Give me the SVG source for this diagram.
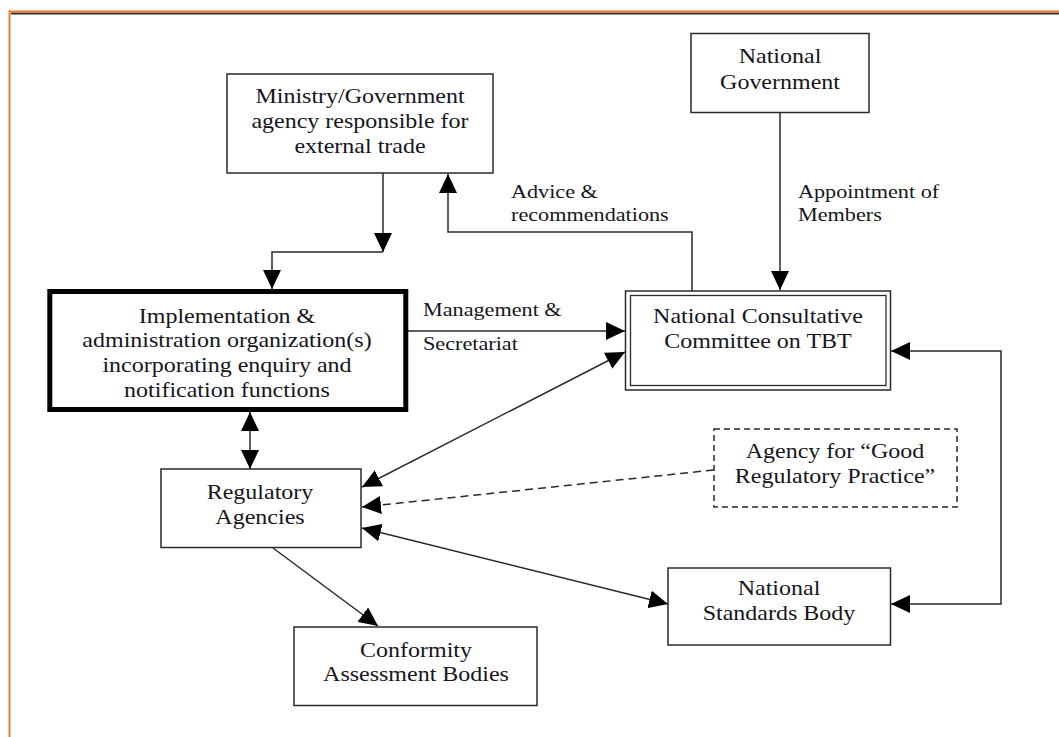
<svg xmlns="http://www.w3.org/2000/svg" width="1059" height="737" viewBox="0 0 1059 737">
  <style>
    .box { fill: #fff; stroke: #2a2a2a; stroke-width: 1.5; }
    .dash { fill: #fff; stroke: #2a2a2a; stroke-width: 1.5; stroke-dasharray: 6 4; }
    .t { font-family: "Liberation Serif", "Times New Roman", serif; font-size: 20px; fill: #151520; text-anchor: middle; }
    .lbl { font-family: "Liberation Serif", "Times New Roman", serif; font-size: 18.5px; fill: #151520; text-anchor: start; }
    .ln { fill: none; stroke: #2a2a2a; stroke-width: 1.5; }
  </style>
  <defs>
    <!-- solid triangular arrowhead, drawn in user units so every connector gets the same size -->
    <marker id="ah" markerUnits="userSpaceOnUse" markerWidth="20" markerHeight="18" refX="19" refY="9" orient="auto-start-reverse" viewBox="0 0 20 18">
      <path d="M0,0 L19,9 L0,18 Z" fill="#000"/>
    </marker>
  </defs>

  <rect width="1059" height="737" fill="#fff"/>

  <!-- page frame -->
  <g id="frame">
    <line x1="11" y1="13.6" x2="1059" y2="13.6" stroke="#2e2e2e" stroke-width="2"/>
    <line x1="9" y1="11.5" x2="1059" y2="11.5" stroke="#ED7D31" stroke-width="2"/>
    <line x1="9.5" y1="10.5" x2="9.5" y2="737" stroke="#ED7D31" stroke-width="2"/>
  </g>

  <!-- connectors -->
  <g id="connectors">
    <path class="ln" d="M383,173 V252" marker-end="url(#ah)"/>
    <path class="ln" d="M383,252 H272 V289" marker-end="url(#ah)"/>
    <path class="ln" d="M780,113 V290" marker-end="url(#ah)"/>
    <path class="ln" d="M692,291 V232 H448 V174" marker-end="url(#ah)"/>
    <path class="ln" d="M408,331 H625" marker-end="url(#ah)"/>
    <path class="ln" d="M625,352 L362,487" marker-start="url(#ah)" marker-end="url(#ah)"/>
    <path class="ln" d="M250,412 V469" marker-start="url(#ah)" marker-end="url(#ah)"/>
    <path class="ln" d="M714,470 L362,507" stroke-dasharray="8 5" marker-end="url(#ah)"/>
    <path class="ln" d="M362,528 L668,604" marker-start="url(#ah)" marker-end="url(#ah)"/>
    <path class="ln" d="M891,351 H1001 V604 H891" marker-start="url(#ah)" marker-end="url(#ah)"/>
    <path class="ln" d="M273,548 L378,626" marker-end="url(#ah)"/>
  </g>

  <!-- connector labels -->
  <g id="labels">
    <g transform="translate(511,0) scale(1.2,1)">
      <text class="lbl" x="0" y="198">Advice &amp;</text>
      <text class="lbl" x="0" y="221">recommendations</text>
    </g>
    <g transform="translate(798,0) scale(1.2,1)">
      <text class="lbl" x="0" y="198">Appointment of</text>
      <text class="lbl" x="0" y="221">Members</text>
    </g>
    <g transform="translate(423,0) scale(1.2,1)">
      <text class="lbl" x="0" y="316">Management &amp;</text>
      <text class="lbl" x="0" y="350">Secretariat</text>
    </g>
  </g>

  <g id="ministry">
    <rect class="box" x="227" y="74" width="266" height="99"/>
    <g transform="translate(360,0) scale(1.2,1)">
      <text class="t" x="0" y="103">Ministry/Government</text>
      <text class="t" x="0" y="128">agency responsible for</text>
      <text class="t" x="0" y="153">external trade</text>
    </g>
  </g>

  <g id="national-government">
    <rect class="box" x="691" y="33.5" width="178" height="79"/>
    <g transform="translate(780,0) scale(1.2,1)">
      <text class="t" x="0" y="63">National</text>
      <text class="t" x="0" y="89">Government</text>
    </g>
  </g>

  <g id="implementation">
    <rect x="49.8" y="291.5" width="356" height="118" fill="#fff" stroke="#000" stroke-width="5"/>
    <g transform="translate(227,0) scale(1.2,1)">
      <text class="t" x="0" y="323">Implementation &amp;</text>
      <text class="t" x="0" y="347">administration organization(s)</text>
      <text class="t" x="0" y="372">incorporating enquiry and</text>
      <text class="t" x="0" y="397">notification functions</text>
    </g>
  </g>

  <g id="consultative-committee">
    <rect class="box" x="625.5" y="291" width="265" height="99"/>
    <rect fill="none" stroke="#2a2a2a" stroke-width="1.3" x="630.5" y="295.5" width="255.5" height="90"/>
    <g transform="translate(758,0) scale(1.2,1)">
      <text class="t" x="0" y="323">National Consultative</text>
      <text class="t" x="0" y="348">Committee on TBT</text>
    </g>
  </g>

  <g id="regulatory-agencies">
    <rect class="box" x="161" y="469" width="200" height="78.5"/>
    <g transform="translate(260,0) scale(1.2,1)">
      <text class="t" x="0" y="499">Regulatory</text>
      <text class="t" x="0" y="524">Agencies</text>
    </g>
  </g>

  <g id="good-regulatory-practice">
    <rect class="dash" x="714" y="429" width="243" height="78"/>
    <g transform="translate(835,0) scale(1.2,1)">
      <text class="t" x="0" y="458">Agency for “Good</text>
      <text class="t" x="0" y="483">Regulatory Practice”</text>
    </g>
  </g>

  <g id="standards-body">
    <rect class="box" x="668" y="568" width="222.5" height="77"/>
    <g transform="translate(779,0) scale(1.2,1)">
      <text class="t" x="0" y="595">National</text>
      <text class="t" x="0" y="620">Standards Body</text>
    </g>
  </g>

  <g id="conformity-assessment">
    <rect class="box" x="294" y="627" width="243" height="78.5"/>
    <g transform="translate(416,0) scale(1.2,1)">
      <text class="t" x="0" y="657">Conformity</text>
      <text class="t" x="0" y="681">Assessment Bodies</text>
    </g>
  </g>
</svg>
